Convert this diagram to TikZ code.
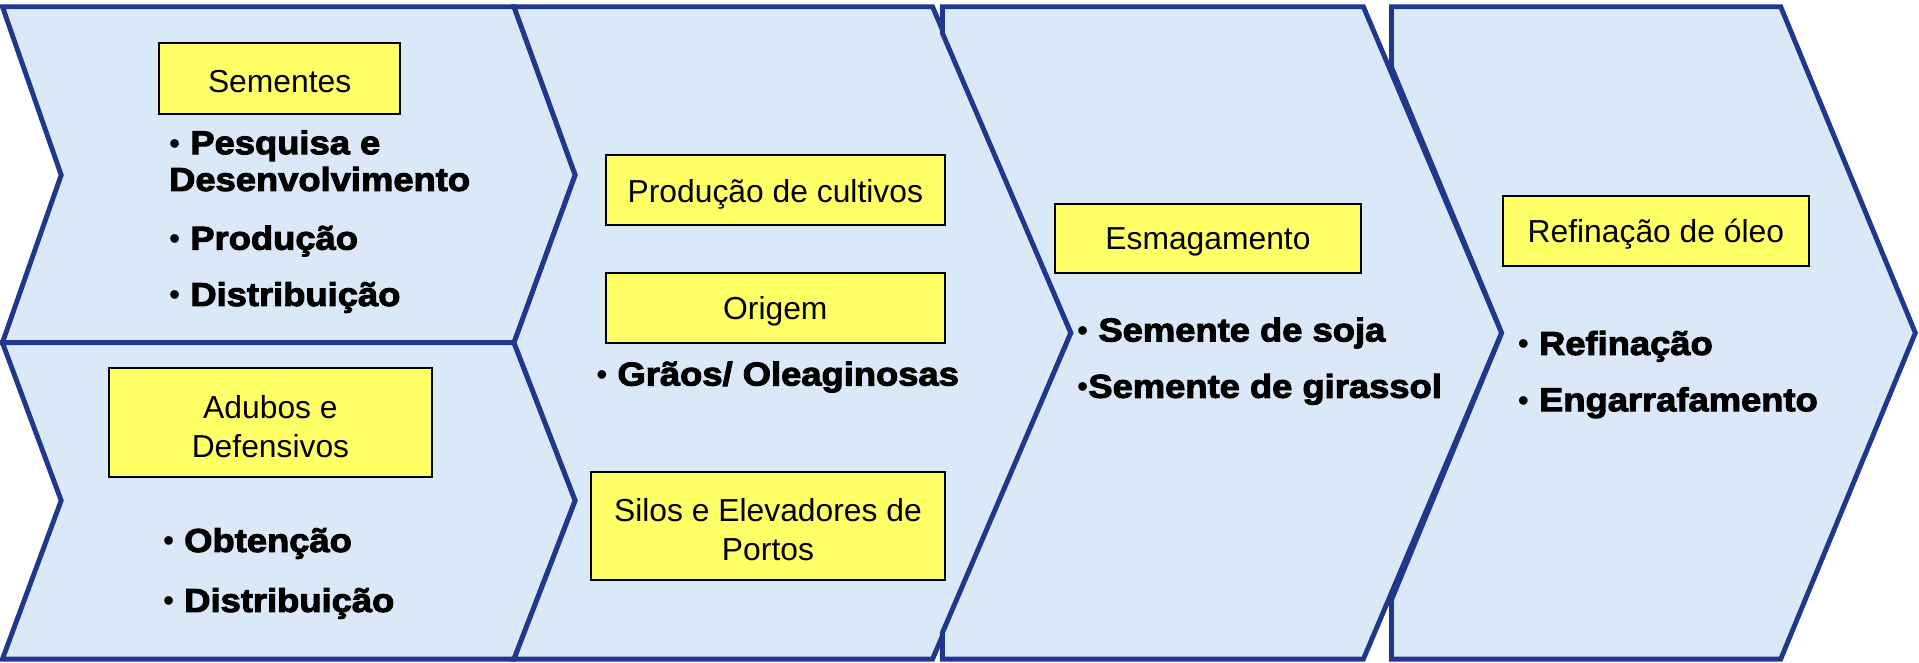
\documentclass[tikz,border=0pt]{standalone}
\usepackage{fontspec}
\setmainfont{Liberation Sans}
\newfontfamily\heavyfont{Liberation Sans Bold}[FakeBold=3,FakeStretch=1.1]
\definecolor{chevfill}{RGB}{219,232,247}
\definecolor{chevline}{RGB}{32,56,140}
\definecolor{boxyellow}{RGB}{255,255,102}
\newcommand\bul{{\normalfont\fontsize{26}{30}\selectfont •}\ }
\begin{document}
\begin{tikzpicture}[x=1pt,y=-1pt,
  chev/.style={fill=chevfill, draw=chevline, line width=4pt, line join=miter},
  ybox/.style={draw=black, line width=1.6pt, fill=boxyellow, inner sep=0pt},
  btext/.style={inner sep=0pt, font=\fontsize{26}{32}\selectfont, align=center},
  item/.style={anchor=base west, inner sep=0pt, font=\heavyfont\fontsize{27}{30}\selectfont}]
\useasboundingbox (0,0) rectangle (1568,541.7);
% chevrons
\draw[chev] (2,5.5) -- (420,5.5) -- (470,143) -- (420,280) -- (2,280) -- (50,143) -- cycle;
\draw[chev] (2,280) -- (420,280) -- (470,409) -- (420,538.5) -- (2,538.5) -- (50,409) -- cycle;
\draw[chev] (420,5.5) -- (762,5.5) -- (875,272) -- (762,538.5) -- (420,538.5) -- (470,409) -- (420,280) -- (470,143) -- cycle;
\draw[chev] (770,5.5) -- (1114,5.5) -- (1227,272) -- (1114,538.5) -- (770,538.5) -- (770,517) -- (875,272) -- (770,27) -- cycle;
\draw[chev] (1137,5.5) -- (1455,5.5) -- (1565,272) -- (1455,538.5) -- (1137,538.5) -- (1137,490) -- (1227,272) -- (1137,55) -- cycle;
% yellow boxes
\node[ybox, minimum width=197pt, minimum height=58pt] (sem) at (228.5,64) {};
\node[btext] (semt) at ([yshift=-3pt]sem.center) {Sementes};
\node[ybox, minimum width=264pt, minimum height=89pt] (adu) at (221,345.5) {};
\node[btext] (adut) at ([yshift=-3pt]adu.center) {Adubos e\\Defensivos};
\node[ybox, minimum width=277pt, minimum height=57pt] (prod) at (633.5,155.5) {};
\node[btext] (prodt) at ([yshift=-3pt]prod.center) {Produção de cultivos};
\node[ybox, minimum width=277pt, minimum height=57pt] (ori) at (633.5,251.5) {};
\node[btext] (orit) at ([yshift=-3pt]ori.center) {Origem};
\node[ybox, minimum width=289pt, minimum height=88pt] (silo) at (627.5,430) {};
\node[btext] (silot) at ([yshift=-3pt]silo.center) {Silos e Elevadores de\\Portos};
\node[ybox, minimum width=250pt, minimum height=56pt] (esm) at (987,195) {};
\node[btext] (esmt) at ([yshift=-3pt]esm.center) {Esmagamento};
\node[ybox, minimum width=250pt, minimum height=57pt] (ref) at (1353,188.5) {};
\node[btext] (reft) at ([yshift=-3pt]ref.center) {Refinação de óleo};
% bullet texts
\node[item] (t1) at (138,126) {\bul Pesquisa e};
\node[item] (t2) at (138,156) {Desenvolvimento};
\node[item] (t3) at (138,204) {\bul Produção};
\node[item] (t4) at (138,250) {\bul Distribuição};
\node[item] (t5) at (133,451) {\bul Obtenção};
\node[item] (t6) at (133,500) {\bul Distribuição};
\node[item] (t7) at (487,315) {\bul Grãos/ Oleaginosas};
\node[item] (t8) at (880,279) {\bul Semente de soja};
\node[item] (t9) at (880,325) {{\normalfont\fontsize{26}{30}\selectfont •}Semente de girassol};
\node[item] (t10) at (1240,290) {\bul Refinação};
\node[item] (t11) at (1240,336) {\bul Engarrafamento};
\end{tikzpicture}
\end{document}
